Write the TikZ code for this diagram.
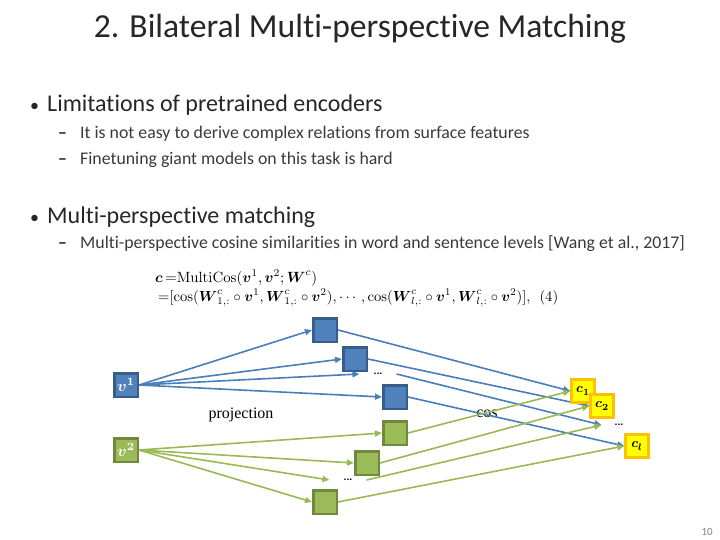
\documentclass[tikz,border=0pt]{standalone}
\usepackage{amsmath}
\usepackage{graphicx}
\usepackage[no-math]{fontspec}
\setmainfont{Carlito}[Ligatures={NoCommon}]
\newfontfamily\serifr{Liberation Serif}
\usetikzlibrary{arrows.meta}
\definecolor{bfill}{HTML}{4F81BD}
\definecolor{bdraw}{HTML}{385D8A}
\definecolor{gfill}{HTML}{9BBB59}
\definecolor{gdraw}{HTML}{71893F}
\definecolor{yfill}{HTML}{FFFF00}
\definecolor{ydraw}{HTML}{FFC000}
\definecolor{bline}{HTML}{4A7EBB}
\definecolor{gline}{HTML}{98B954}
\definecolor{txt}{HTML}{262626}
\definecolor{txtl}{HTML}{3A3A3A}
\tikzset{
  bbox/.style={draw=bdraw, fill=bfill, line width=2.5pt, minimum size=23.5pt, inner sep=0pt},
  gbox/.style={draw=gdraw, fill=gfill, line width=2.5pt, minimum size=23.5pt, inner sep=0pt},
  ybox/.style={draw=ydraw, fill=yfill, line width=2.5pt, minimum size=23pt, inner sep=0pt},
  barrow/.style={draw=bline, line width=1.6pt, -{Triangle[length=7pt,width=6pt]}},
  garrow/.style={draw=gline, line width=1.6pt, -{Triangle[length=7pt,width=6pt]}},
  dotsnode/.style={inner xsep=14pt, inner ysep=2pt, font=\bfseries\fontsize{11}{12}\selectfont},
  txtnode/.style={anchor=base west, inner sep=0pt, text=txt},
  lone/.style={txtnode, font=\fontsize{24}{28}\selectfont},
  ltwo/.style={txtnode, text=txtl, font=\fontsize{17.8}{20}\selectfont},
  dashm/.style={txtnode, font=\bfseries\fontsize{17.8}{20}\selectfont},
  bulm/.style={txtnode, font=\fontsize{18}{20}\selectfont},
}
\newcommand{\inlab}[1]{\scalebox{1.6}{$\boldsymbol{#1}$}}
\newcommand{\outlab}[1]{\scalebox{1.35}{$\boldsymbol{#1}$}}
\begin{document}
\begin{tikzpicture}[x=1pt,y=-1pt]
\useasboundingbox (0,0) rectangle (720,540);
% title and bullets
\node[anchor=base, inner sep=0pt, text=txt, font=\fontsize{33.6}{36}\selectfont] (title) at (360,38) {2. Bilateral Multi-perspective Matching};
\node[bulm] (b1m) at (30,112) {•};
\node[lone] (b1) at (47,112) {Limitations of pretrained encoders};
\node[dashm] (d1m) at (58,139) {–};
\node[ltwo] (d1) at (80,139) {It is not easy to derive complex relations from surface features};
\node[dashm] (d2m) at (58,165) {–};
\node[ltwo] (d2) at (80,165) {Finetuning giant models on this task is hard};
\node[bulm] (b2m) at (30,223) {•};
\node[lone] (b2) at (47,223) {Multi-perspective matching};
\node[dashm] (d3m) at (58,248) {–};
\node[ltwo] (d3) at (80,248) {Multi-perspective cosine similarities in word and sentence levels [Wang et al., 2017]};
% formula
\node[anchor=base west, inner sep=0pt] (f1) at (155,282) {\resizebox{162pt}{!}{$\boldsymbol{c}\,{=}\mathrm{MultiCos}(\boldsymbol{v}^1,\boldsymbol{v}^2;\boldsymbol{W}^c)$}};
\node[anchor=base west, inner sep=0pt] (f2) at (158,301) {\resizebox{400pt}{!}{${=}[\cos(\boldsymbol{W}^c_{1,:}\circ\boldsymbol{v}^1,\boldsymbol{W}^c_{1,:}\circ\boldsymbol{v}^2),\cdots,\cos(\boldsymbol{W}^c_{l,:}\circ\boldsymbol{v}^1,\boldsymbol{W}^c_{l,:}\circ\boldsymbol{v}^2)],\ \ \mathrm{(4)}$}};
% inputs
\node[bbox, text=white] (v1) at (126,385) {\inlab{v^1}};
\node[gbox, text=white] (v2) at (126,450) {\inlab{v^2}};
% blue projections
\node[bbox] (pb1) at (325,330) {};
\node[bbox] (pb2) at (355,359) {};
\node[bbox] (pb3) at (395,397) {};
\node[dotsnode] (bd) at (378,374) {...};
% green projections
\node[gbox] (pg1) at (395,433) {};
\node[gbox] (pg2) at (367,463) {};
\node[gbox] (pg3) at (325,502) {};
\node[dotsnode] (gd) at (348,480) {...};
% outputs
\node[ybox] (c1) at (583,391) {\outlab{c_1}};
\node[ybox] (c2) at (602,406) {\outlab{c_2}};
\node[dotsnode, inner xsep=13pt] (rd) at (619,425) {...};
\node[ybox] (cl) at (637,446) {\outlab{c_l}};
% labels
\node[font=\serifr\fontsize{16}{18}\selectfont, inner sep=0pt] (proj) at (241,415) {projection};
\node[font=\serifr\fontsize{16}{18}\selectfont, inner sep=0pt] (cos) at (487,414) {cos};
\node[anchor=base east, inner sep=0pt, text=gray, font=\fontsize{11}{12}\selectfont] (pn) at (713,535) {10};
% v1 arrows
\draw[barrow] (v1.east) -- (pb1.west);
\draw[barrow] (v1.east) -- (pb2.west);
\draw[barrow] (v1.east) -- (bd.west);
\draw[barrow] (v1.east) -- (pb3.west);
% v2 arrows
\draw[garrow] (v2.east) -- (pg1.west);
\draw[garrow] (v2.east) -- (pg2.west);
\draw[garrow] (v2.east) -- (gd.west);
\draw[garrow] (v2.east) -- (pg3.west);
% to outputs
\draw[barrow] (pb1.east) -- (c1.west);
\draw[barrow] (pb2.east) -- (c2.west);
\draw[barrow] (bd.east) -- (rd.west);
\draw[barrow] (pb3.east) -- (cl.west);
\draw[garrow] (pg1.east) -- (c1.west);
\draw[garrow] (pg2.east) -- (c2.west);
\draw[garrow] (gd.east) -- (rd.west);
\draw[garrow] (pg3.east) -- (cl.west);
% redraw outputs on top
\node[ybox] at (c1) {\outlab{c_1}};
\node[ybox] at (c2) {\outlab{c_2}};
\node[ybox] at (cl) {\outlab{c_l}};
\end{tikzpicture}
\end{document}
